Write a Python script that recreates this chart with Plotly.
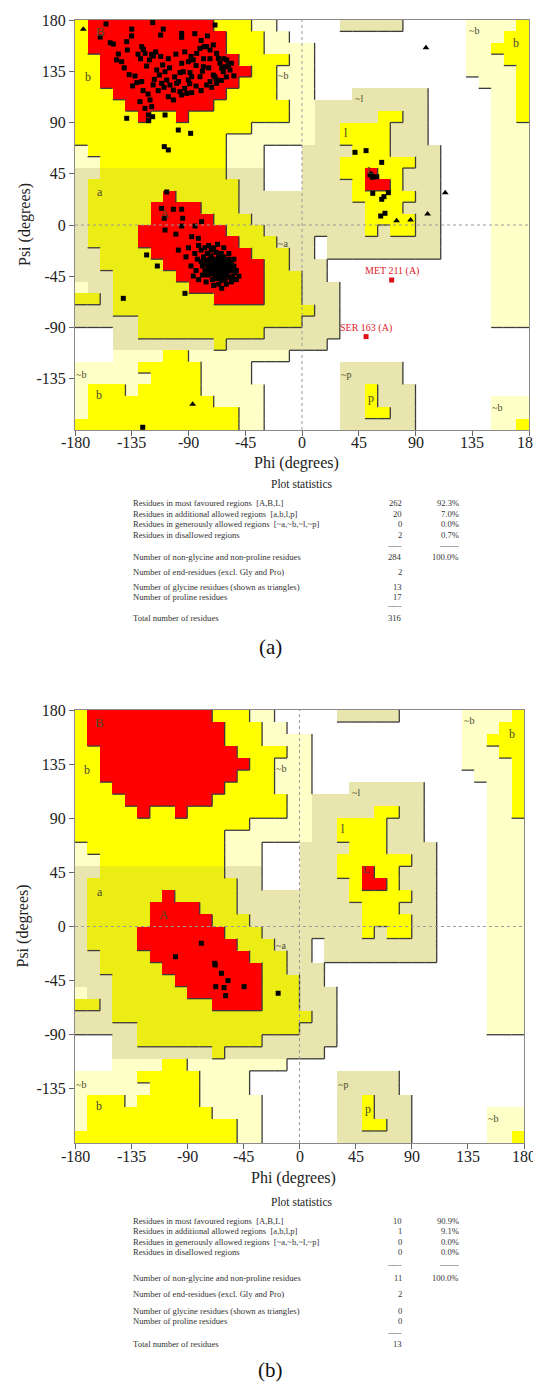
import plotly.graph_objects as go

FIG_W, FIG_H = 541, 1383
PAGE_OFFSET = 8  # default body margin of the html page
SERIF = "Liberation Serif"

PHI_TICKS = [-180, -135, -90, -45, 0, 45, 90, 135, 180]
PSI_TICKS = [-135, -90, -45, 0, 45, 90, 135, 180]

# Ramachandran region map: psi row (lower bound) -> painted phi segments
REGION_ROWS = {
    170: [("Y", -180, -40), ("R", -170, -70), ("G", -40, -20), ("g", 30, 80), ("G", 130, 170), ("Y", 170, 180)],
    160: [("Y", -180, -30), ("R", -170, -60), ("G", -30, -10), ("G", 130, 160), ("Y", 160, 180)],
    150: [("Y", -180, -30), ("R", -170, -60), ("G", -30, 10), ("G", 130, 150), ("Y", 150, 180)],
    140: [("Y", -180, -10), ("R", -160, -50), ("G", -10, 10), ("G", 130, 160), ("Y", 160, 180)],
    130: [("Y", -180, -20), ("R", -160, -40), ("G", -20, 10), ("G", 130, 170), ("Y", 170, 180)],
    120: [("Y", -180, -20), ("R", -160, -50), ("G", -20, 10), ("G", 140, 170), ("Y", 170, 180)],
    110: [("Y", -180, -20), ("R", -150, -60), ("G", -20, 10), ("g", 40, 100), ("G", 150, 170), ("Y", 170, 180)],
    100: [("Y", -180, -10), ("R", -140, -70), ("G", -10, 10), ("g", 10, 100), ("G", 150, 170), ("Y", 170, 180)],
    90: [("Y", -180, -10), ("R", -130, -120), ("R", -100, -90), ("G", -10, 10), ("g", 10, 100), ("Y", 60, 80), ("G", 150, 170), ("Y", 170, 180)],
    80: [("Y", -180, -40), ("G", -40, 10), ("g", 10, 100), ("Y", 30, 70), ("G", 150, 180)],
    70: [("Y", -180, -60), ("G", -60, 10), ("g", 10, 100), ("Y", 30, 70), ("G", 150, 180)],
    60: [("G", -180, -170), ("Y", -170, -60), ("G", -60, -30), ("g", 0, 110), ("Y", 40, 70), ("G", 150, 180)],
    50: [("G", -180, -160), ("Y", -160, -60), ("G", -60, -30), ("g", 0, 110), ("Y", 30, 90), ("G", 150, 180)],
    40: [("g", -180, -160), ("y", -160, -60), ("g", -60, -30), ("g", 0, 110), ("Y", 30, 80), ("R", 50, 60), ("G", 150, 180)],
    30: [("g", -180, -170), ("y", -170, -50), ("g", -50, -30), ("g", 0, 110), ("Y", 40, 80), ("R", 50, 70), ("G", 150, 180)],
    20: [("g", -180, -170), ("y", -170, -50), ("R", -110, -100), ("g", -50, 110), ("Y", 40, 90), ("G", 150, 180)],
    10: [("g", -180, -170), ("y", -170, -50), ("R", -120, -80), ("g", -50, 110), ("Y", 50, 80), ("G", 150, 180)],
    0: [("g", -180, -170), ("y", -170, -40), ("R", -120, -70), ("g", -40, 110), ("Y", 50, 90), ("G", 150, 180)],
    -10: [("g", -180, -170), ("y", -170, -30), ("R", -130, -60), ("g", -30, 110), ("Y", 50, 60), ("Y", 70, 90), ("G", 150, 180)],
    -20: [("g", -180, -170), ("y", -170, -20), ("R", -130, -50), ("g", -20, 10), ("g", 20, 110), ("G", 150, 180)],
    -30: [("g", -180, -160), ("y", -160, -10), ("R", -120, -40), ("g", -10, 10), ("g", 20, 110), ("G", 150, 180)],
    -40: [("g", -180, -160), ("y", -160, -10), ("R", -110, -30), ("g", -10, 20), ("G", 150, 180)],
    -50: [("g", -180, -150), ("y", -150, 0), ("R", -100, -30), ("g", 0, 20), ("G", 150, 180)],
    -60: [("G", -180, -170), ("g", -170, -150), ("y", -150, 0), ("R", -90, -30), ("g", 0, 30), ("G", 150, 180)],
    -70: [("y", -180, -160), ("g", -160, -150), ("y", -150, 0), ("R", -70, -30), ("g", 0, 30), ("G", 150, 180)],
    -80: [("g", -180, -150), ("y", -150, 10), ("g", 10, 30), ("G", 150, 180)],
    -90: [("g", -180, -130), ("y", -130, 0), ("g", 0, 30), ("G", 150, 180)],
    -100: [("g", -150, -130), ("y", -130, -30), ("g", -30, 30)],
    -110: [("g", -150, 20), ("y", -70, -60)],
    -120: [("G", -150, -10), ("Y", -110, -90)],
    -130: [("G", -180, -40), ("Y", -130, -80), ("g", 30, 80)],
    -140: [("G", -180, -40), ("Y", -120, -80), ("g", 30, 80)],
    -150: [("G", -180, -30), ("Y", -170, -140), ("Y", -130, -80), ("g", 30, 90), ("Y", 50, 60)],
    -160: [("G", -180, -30), ("Y", -170, -70), ("g", 30, 90), ("Y", 50, 60), ("G", 150, 180)],
    -170: [("G", -180, -30), ("Y", -170, -50), ("g", 30, 90), ("Y", 50, 70), ("G", 150, 180)],
    -180: [("G", -180, -30), ("Y", -180, -50), ("g", 30, 90), ("G", 150, 180), ("Y", 170, 180)],
}

CODE_ORDER = ["W", "G", "g", "Y", "y", "R"]
REGION_COLORS = ["#FFFFFF", "#FFFFC8", "#E9E5AE", "#FFFF00", "#EDED16", "#FF0000"]
RANK = {"W": 0, "G": 1, "g": 1, "Y": 2, "y": 2, "R": 3}

REGION_LABELS = [
    ("B", -160, 170, 13), ("b", -170, 130, 12), ("a", -160, 29, 12), ("A", -109, 10, 13),
    ("~b", -15, 131, 10), ("~l", 45, 111, 10), ("l", 35, 81, 12), ("L", 54, 48, 11),
    ("~b", 136, 171, 10), ("b", 170, 160, 12), ("~a", -15, -16, 10), ("~p", 35, -131, 10),
    ("p", 55, -152, 12), ("~b", 155, -160, 10), ("~b", -175, -131, 10), ("b", -161, -149, 12),
]

# ---- Panel (a) residues ----
A_SQ_PHI = [
    -155.4, -118.4, -95.4, -95.4, -112.1, -69.0, -135.1, -139.0, -138.5, -149.6, -145.6, -143.0,
    -127.1, -125.8, -124.5, -119.2, -117.9, -123.2, -132.4, -134.3, -127.1, -117.1, -115.2, -110.5,
    -108.6, -113.1, -111.3, -109.4, -107.3, -104.7, -102.0, -102.0, -99.4, -96.7, -95.4, -94.1,
    -90.1, -88.8, -87.5, -90.1, -86.2, -83.5, -80.9, -77.7, -75.6, -72.9, -70.3, -67.7, -66.3,
    -65.0, -63.7, -62.4, -61.0, -59.7, -58.4, -57.1, -69.0, -72.9, -75.6, -71.6, -70.3, -67.7,
    -80.9, -78.2, -91.4, -95.4, -96.7, -87.5, -106.0, -128.5, -124.5, -120.5, -119.2, -121.8,
    -118.4, -121.8, -108.6, -139.0, -98.1, -88.3, -109.2, -106.0,
    -130, -128, -121, -116, -112, -106, -100, -93, -88, -84, -79, -74, -68, -64, -60, -56, -54,
    -62, -73, -78, -105, -101, -98, -93, -89, -84, -80, -114, -118, -122, -126, -131, -137, -141,
    -147, -152, -160, -135, -110, -85, -80, -75,
    -107.3, -111.3, -109.2, -102.0, -95.4, -94.6, -79.6, -108.6, -95.4, -84.8, -87.5, -82.2,
    -123.2, -114.7, -86.2, -92.8, -63.7, -54.4, -141.7, -126.3, -100.0, -90.0,
    -98, -92, -85, -83, -88, -84, -79, -82, -76, -70, -66, -60, -56, -52, -50, -54, -58, -62, -67, -82,
    -80, -77, -74, -72, -70, -68, -75, -78, -72, -66, -64, -62, -80, -76, -73, -70, -67, -64,
    -61, -58, -56, -79, -75, -72, -69, -66, -63, -60, -57, -54, -77, -74, -71, -68, -65, -62,
    -59, -56, -53, -75, -72, -69, -66, -63, -60, -57, -71, -67, -64, -61, -68, -65, -70, -62,
    -73, -66, -60, -58, -76, -64, -55, -52, -69, -67, -74, -63, -71,
    42.0, 50.8, 63.2, 53.9, 55.8, 59.3, 56.1, 63.2, 65.0, 68.5, 65.8, 62.4,
]
A_SQ_PSI = [
    176.5, 177.7, 168.3, 164.8, 166.8, 175.6, 166.0, 161.0, 153.7, 158.9, 150.1, 143.4,
    156.6, 154.2, 150.7, 149.9, 148.4, 139.6, 130.8, 122.1, 125.9, 127.9, 136.1, 140.5,
    134.6, 131.7, 124.4, 120.9, 127.3, 122.9, 118.5, 109.8, 124.4, 133.8, 142.0, 134.6,
    143.4, 133.8, 130.2, 127.3, 144.9, 150.7, 155.1, 156.6, 156.6, 153.7, 158.1, 150.7, 146.3,
    142.0, 137.6, 134.6, 139.0, 144.9, 140.5, 136.1, 130.2, 125.9, 122.9, 120.9, 131.7, 124.4,
    130.2, 139.0, 115.6, 114.2, 117.1, 116.2, 112.7, 108.3, 102.4, 109.8, 103.9, 96.6,
    95.1, 91.6, 96.6, 93.7, 83.4, 80.5, 68.8, 65.9,
    150, 146, 145, 152, 148, 146, 150, 152, 148, 140, 135, 138, 128, 127, 130, 142, 131,
    146, 146, 146, 138, 130, 126, 120, 124, 122, 118, 118, 123, 115, 118, 125, 132, 138,
    145, 160, 165, 172, 172, 168, 162, 166,
    29.0, 14.6, 5.9, 13.8, 13.8, 5.9, 3.0, -4.4, -0.9, -0.9, -10.2, -11.7,
    -26.3, -36.0, -44.8, -60.0, -55.6, -47.7, -64.4, -177.6, -8.0, -20.0,
    -22, -28, -25, -30, -36, -40, -44, -48, -50, -53, -52, -52, -50, -40, -45, -30, -25, -20, -17, -18,
    -22, -20, -18, -22, -20, -24, -25, -28, -27, -27, -25, -28, -32, -31, -30, -30, -31, -31,
    -32, -30, -33, -36, -35, -34, -35, -35, -35, -36, -37, -36, -40, -39, -39, -40, -39, -40,
    -41, -40, -42, -44, -43, -44, -43, -45, -44, -46, -48, -47, -49, -48, -37, -33, -42, -37,
    -37, -29, -39, -34, -33, -42, -45, -48, -32, -44, -42, -29, -36,
    63.8, 65.3, 55.0, 43.9, 41.9, 42.4, 27.8, 22.6, 24.9, 28.4, 10.3, 7.9,
]
A_GLY_PHI = [-173.4, 98.3, 75.0, 86.1, 99.6, 113.6, -86.7, 55.0]
A_GLY_PSI = [171.8, 155.7, 3.8, 4.4, 9.7, 28.4, -157.4, 45.0]
A_OUT_PHI = [71.1, 50.8]
A_OUT_PSI = [-48.3, -98.0]
A_OUT_TXT = ["MET 211 (A)", "SER 163 (A)"]

# ---- Panel (b) residues ----
B_SQ_PHI = [-78.7, -99.4, -68.0, -67.5, -62.6, -57.3, -67.2, -60.5, -59.2, -44.4, -17.1]
B_SQ_PSI = [-13.9, -25.1, -30.6, -32.0, -38.9, -45.0, -50.0, -50.8, -57.5, -50.0, -55.5]

# ---- Plot statistics ----
STAT_LABELS = [
    "Residues in most favoured regions  [A,B,L]",
    "Residues in additional allowed regions  [a,b,l,p]",
    "Residues in generously allowed regions  [~a,~b,~l,~p]",
    "Residues in disallowed regions",
    "Number of non-glycine and non-proline residues",
    "Number of end-residues (excl. Gly and Pro)",
    "Number of glycine residues (shown as triangles)",
    "Number of proline residues",
    "Total number of residues",
]
STATS_A_COUNTS = ["262", "20", "0", "2", "284", "2", "13", "17", "316"]
STATS_A_PCT = ["92.3%", "7.0%", "0.0%", "0.7%", "100.0%", "", "", "", ""]
STATS_B_COUNTS = ["10", "1", "0", "0", "11", "2", "0", "0", "13"]
STATS_B_PCT = ["90.9%", "9.1%", "0.0%", "0.0%", "100.0%", "", "", "", ""]

# layout (pixel) geometry for the two panels
PANELS = [
    dict(name="a", ax="x", ay="y", left=75, right=529, top=20, bottom=430,
         phi_title_y=463, psi_title_x=25, stats_title_y=484,
         row_y=[503, 514, 524, 535, 557, 572, 587, 597, 618], dash1_y=546, dash2_y=607, caption_y=647),
    dict(name="b", ax="x2", ay="y2", left=75, right=524, top=710, bottom=1143,
         phi_title_y=1178, psi_title_x=22, stats_title_y=1202,
         row_y=[1221, 1231, 1242, 1252, 1278, 1294, 1311, 1321, 1344], dash1_y=1265, dash2_y=1333, caption_y=1370),
]


def px(x):
    return (x - PAGE_OFFSET) / FIG_W


def py(y):
    return 1 - (y - PAGE_OFFSET) / FIG_H


def build_grid():
    grid = [["W"] * 36 for _ in range(36)]
    for psi_lo, segs in REGION_ROWS.items():
        r = (psi_lo + 180) // 10
        for code, a, b in segs:
            for c in range((a + 180) // 10, (b + 180) // 10):
                grid[r][c] = code
    return grid


def boundary_lines(grid):
    xs, ys = [], []
    for r in range(36):
        for c in range(35):
            if RANK[grid[r][c]] > RANK[grid[r][c + 1]]:
                x = -180 + 10 * (c + 1)
                xs += [x, x, None]
                ys += [-180 + 10 * r, -170 + 10 * r, None]
    for r in range(1, 36):
        for c in range(36):
            if RANK[grid[r][c]] > RANK[grid[r - 1][c]]:
                y = -180 + 10 * r
                xs += [-180 + 10 * c, -170 + 10 * c, None]
                ys += [y, y, None]
    return xs, ys


def note(text, x, y, size, xref="paper", yref="paper", xanchor="center", color="#222", **kw):
    return dict(text=text, x=x, y=y, xref=xref, yref=yref, xanchor=xanchor, yanchor="middle",
                showarrow=False, font=dict(family=SERIF, size=size, color=color), **kw)


grid = build_grid()
zvals = [[CODE_ORDER.index(ch) for ch in row] for row in grid]
centers = [-175 + 10 * i for i in range(36)]
colorscale = []
for i, col in enumerate(REGION_COLORS):
    colorscale.append([i / 6, col])
    colorscale.append([(i + 1) / 6, col])
lx, ly = boundary_lines(grid)

fig = go.Figure()
annotations = []
shapes = []

for p in PANELS:
    xa, ya = p["ax"], p["ay"]
    fig.add_trace(go.Heatmap(z=zvals, x=centers, y=centers, colorscale=colorscale,
                             zmin=-0.5, zmax=5.5, showscale=False, hoverinfo="skip",
                             xaxis=xa, yaxis=ya))
    fig.add_trace(go.Scatter(x=lx, y=ly, mode="lines", line=dict(color="#3c3c3c", width=1.3),
                             hoverinfo="skip", xaxis=xa, yaxis=ya))
    for sh in [dict(x0=0, x1=0, y0=-180, y1=180), dict(x0=-180, x1=180, y0=0, y1=0)]:
        shapes.append(dict(type="line", xref=xa, yref=ya, line=dict(color="#9a9a9a", width=1, dash="dot"), layer="above", **sh))
    for txt, lphi, lpsi, fs in REGION_LABELS:
        annotations.append(note(txt, lphi, lpsi, fs, xref=xa, yref=ya, color="#4a4a30"))
    # phi tick labels placed just under the axis
    for v in PHI_TICKS:
        annotations.append(note(str(v), v, py(p["bottom"] + 13), 16, xref=xa))

# residues
fig.add_trace(go.Scatter(x=A_SQ_PHI, y=A_SQ_PSI, mode="markers", xaxis="x", yaxis="y",
                         marker=dict(symbol="square", size=5, color="black")))
fig.add_trace(go.Scatter(x=A_GLY_PHI, y=A_GLY_PSI, mode="markers", xaxis="x", yaxis="y",
                         marker=dict(symbol="triangle-up", size=6, color="black")))
fig.add_trace(go.Scatter(x=A_OUT_PHI, y=A_OUT_PSI, mode="markers", xaxis="x", yaxis="y",
                         marker=dict(symbol="square", size=5, color="#E0101A")))
for t, xo, yo in zip(A_OUT_TXT, A_OUT_PHI, A_OUT_PSI):
    annotations.append(note(t, xo, yo, 10, xref="x", yref="y", color="#E0202A", yshift=9))
fig.add_trace(go.Scatter(x=B_SQ_PHI, y=B_SQ_PSI, mode="markers", xaxis="x2", yaxis="y2",
                         marker=dict(symbol="square", size=5, color="black")))

axis_common = dict(range=[-180, 180], showgrid=False, zeroline=False, showline=True, mirror=True,
                   linecolor="#8a8a8a", linewidth=1, ticks="outside", ticklen=5, tickcolor="#666",
                   tickfont=dict(family=SERIF, size=16, color="#222"), fixedrange=True, automargin=False)

layout_axes = {}
for p in PANELS:
    xkey = "xaxis" if p["ax"] == "x" else "xaxis2"
    ykey = "yaxis" if p["ay"] == "y" else "yaxis2"
    layout_axes[xkey] = dict(axis_common, domain=[px(p["left"]), px(p["right"])], anchor=p["ay"],
                             tickvals=PHI_TICKS, showticklabels=False)
    layout_axes[ykey] = dict(axis_common, domain=[py(p["bottom"]), py(p["top"])], anchor=p["ax"],
                             tickvals=PSI_TICKS, ticktext=[str(v) for v in PSI_TICKS])
    cx = (p["left"] + p["right"]) / 2
    annotations.append(note("Phi (degrees)", px(cx - 6), py(p["phi_title_y"]), 16))
    annotations.append(note("Psi (degrees)", px(p["psi_title_x"]), py((p["top"] + p["bottom"]) / 2), 16, textangle=-90))
    annotations.append(note("Plot statistics", px(302), py(p["stats_title_y"]), 11.5))
    counts = STATS_A_COUNTS if p["name"] == "a" else STATS_B_COUNTS
    pcts = STATS_A_PCT if p["name"] == "a" else STATS_B_PCT
    for lab, cnt, pct, yy in zip(STAT_LABELS, counts, pcts, p["row_y"]):
        annotations.append(note(lab, px(131), py(yy), 8.6, xanchor="left", color="#333"))
        annotations.append(note(cnt, px(404), py(yy), 8.6, xanchor="right", color="#333"))
        if pct:
            annotations.append(note(pct, px(461), py(yy), 8.6, xanchor="right", color="#333"))
    for txt, xx, yy in [("-----", 404, p["dash1_y"]), ("-------", 461, p["dash1_y"]), ("-----", 404, p["dash2_y"])]:
        annotations.append(note(txt, px(xx), py(yy), 8, xanchor="right", color="#555"))
    annotations.append(note("(" + p["name"] + ")", px(270), py(p["caption_y"]), 21, color="#111"))

fig.update_layout(
    width=FIG_W, height=FIG_H, margin=dict(l=0, r=0, t=0, b=0, autoexpand=False),
    paper_bgcolor="white", plot_bgcolor="white", showlegend=False,
    annotations=annotations, shapes=shapes, hovermode=False,
    **layout_axes,
)

fig.write_html("out.html")
